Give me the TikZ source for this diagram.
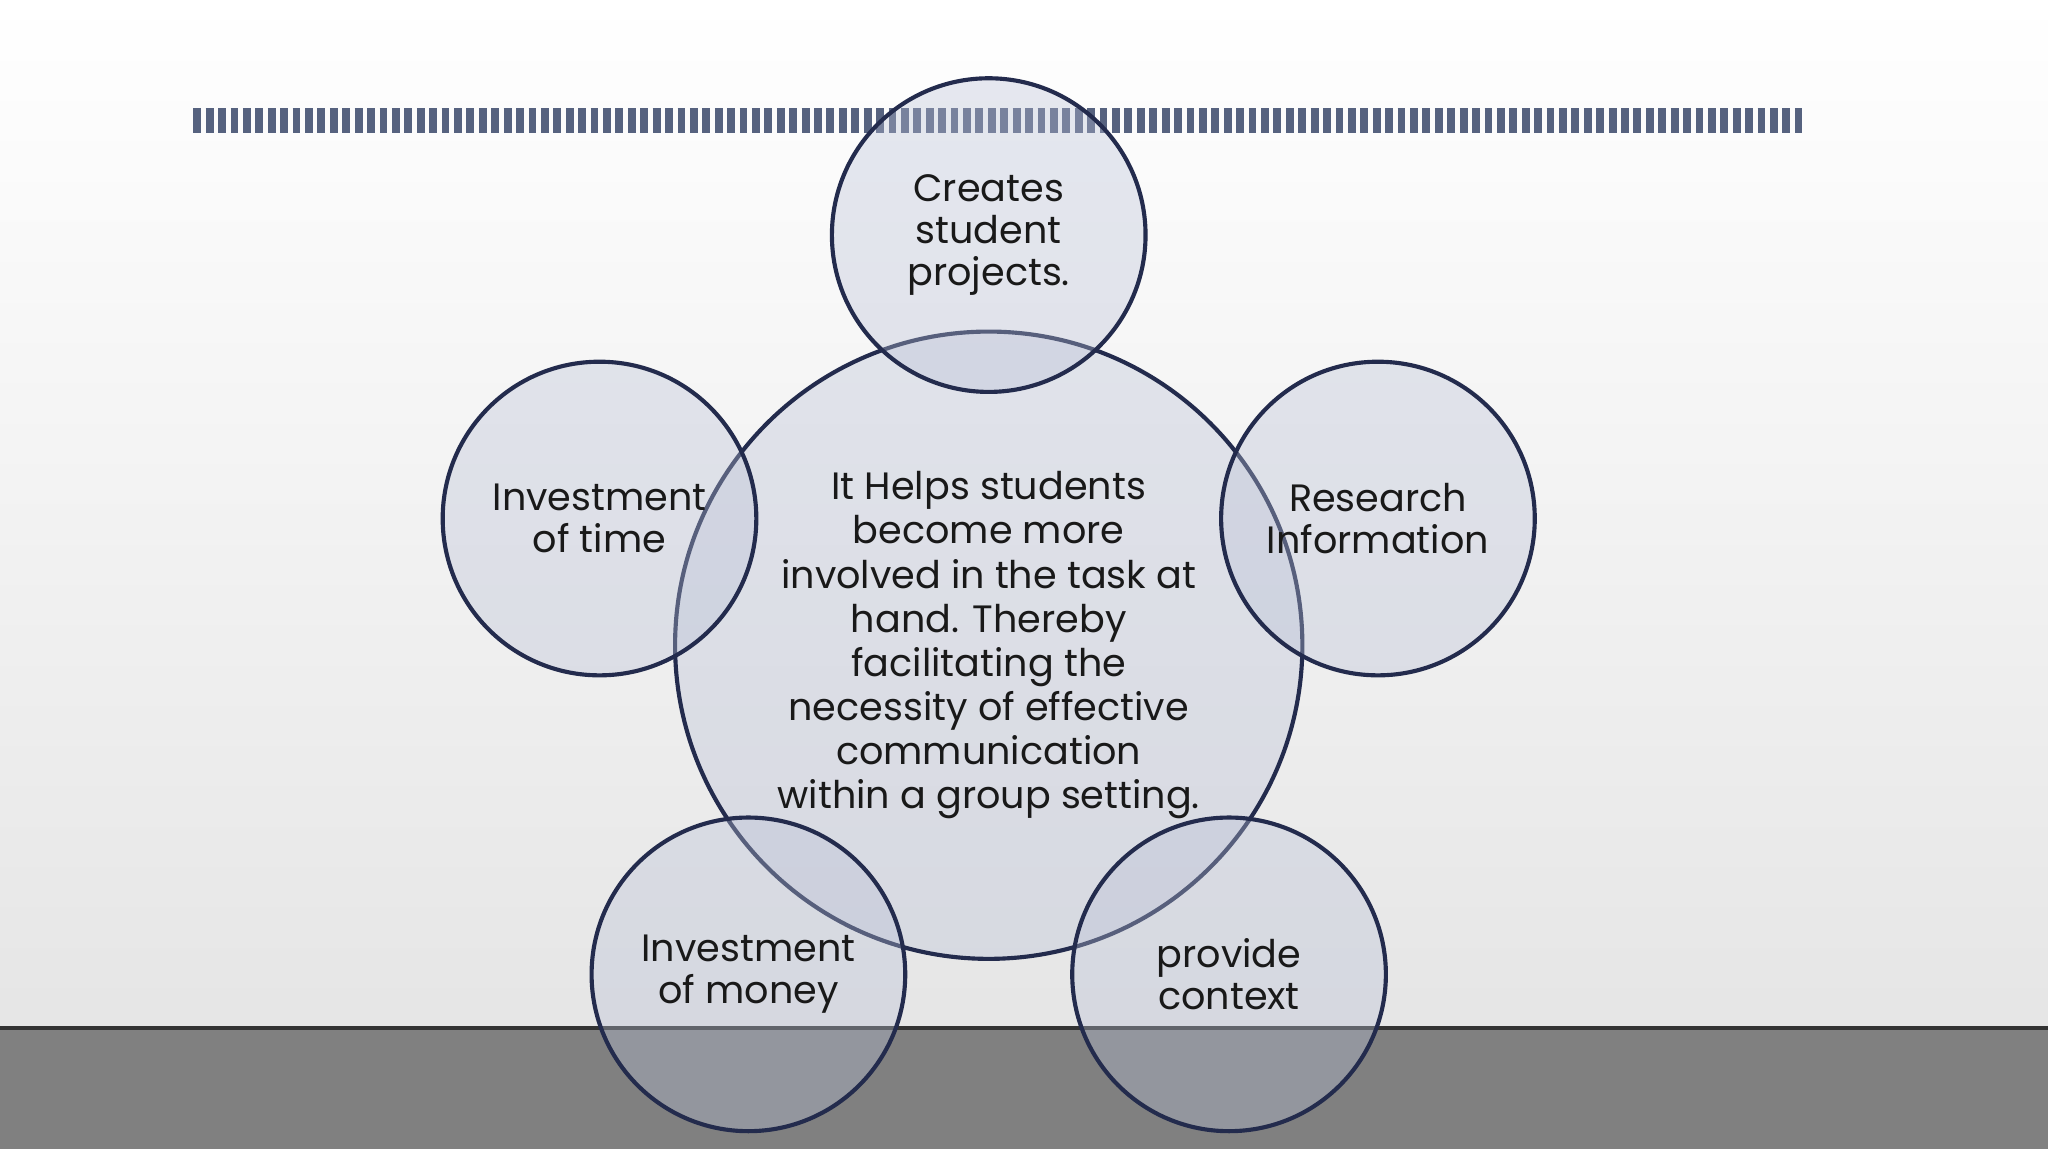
\documentclass[tikz,border=0pt]{standalone}
\usepackage{fontspec}
\setmainfont{Poppins}
\usetikzlibrary{shadings}
\definecolor{navy}{HTML}{232B4D}
\definecolor{band}{HTML}{56627F}
\definecolor{bub}{HTML}{B9C0D6}
\tikzset{bubble/.style={circle,draw=navy,line width=0.9pt,fill=bub,fill opacity=0.35,text opacity=1,text=black!90,align=center,font=\fontsize{8.3}{9.6}\selectfont},
 big/.style={bubble,minimum size=4.8cm},
 small/.style={bubble,minimum size=2.4cm,font=\fontsize{8.3}{9.1}\selectfont}}
\begin{document}
\begin{tikzpicture}[x=0.01cm,y=-0.01cm]
\useasboundingbox (0,0) rectangle (1568,882);
\shade[top color=white,bottom color=black!10] (0,0) rectangle (1568,787);
\fill[black!50] (0,787) rectangle (1568,880);
\fill[white] (0,880) rectangle (1568,882);
\draw[black!80,line width=0.8pt] (0,787) -- (1568,787);
\draw[band,line width=0.19cm,dash pattern=on 0.06cm off 0.035cm] (148,92.5) -- (1380,92.5);
\node[big] (c) at (757,494) {It Helps students\\become more\\involved in the task at\\hand. Thereby\\facilitating the\\necessity of effective\\communication\\within a group setting.};
\node[small] (t) at (757,180) {Creates\\student\\projects.};
\node[small] (l) at (459,397) {Investment\\of time};
\node[small] (r) at (1055,397) {Research\\Information};
\node[small] (bl) at (573,746) {Investment\\of money};
\node[small] (br) at (941,746) {provide\\context};
\end{tikzpicture}
\end{document}
